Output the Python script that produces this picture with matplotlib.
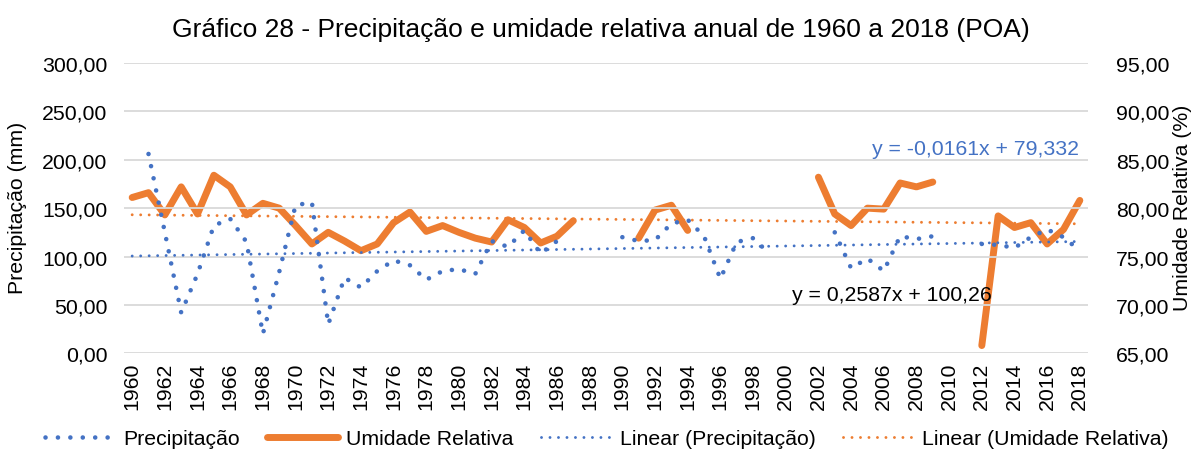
import numpy as np
import matplotlib
matplotlib.use("Agg")
import matplotlib.pyplot as plt
from matplotlib.ticker import FuncFormatter

plt.rcParams['font.family'] = ['Liberation Sans', 'DejaVu Sans']

nan = np.nan
anos = list(range(1960, 2019))

# precipitacao anual media (mm) - anos sem dado ficam como nan
precipitacao = [
    nan, 206, 125, 42, 82, 132, 139, 115, 20, 84,
    153, 156, 30, 78, 68, 85, 96, 91, 76, 85,
    87, 82, 116, 110, 127, 103, 116, nan, nan, nan,
    120, 116, 117, 134, 138, 121, 77, 115, 119, 103,
    nan, nan, nan, 125, 88, 98, 85, 121, 118, 121,
    nan, nan, 113, 112, 109, 120, 128, 120, 106,
]

# umidade relativa anual (%)
umidade = [
    81.1, 81.6, 79.3, 82.2, 79.4, 83.4, 82.2, 79.3, 80.5, 80.0,
    78.2, 76.3, 77.5, 76.6, 75.6, 76.3, 78.5, 79.6, 77.6, 78.2,
    77.5, 76.9, 76.5, 78.8, 78.0, 76.4, 77.1, 78.7, nan, nan,
    nan, 76.9, 79.8, 80.3, 77.7, nan, nan, nan, nan, nan,
    nan, nan, 83.2, 79.4, 78.2, 80.0, 79.9, 82.6, 82.2, 82.7,
    nan, nan, 65.8, 79.2, 78.0, 78.5, 76.3, 77.8, 80.8,
]

# tendencias lineares (x = 1..59)
trend_p = (0.2587, 100.26)
trend_u = (-0.0161, 79.332)

azul = '#4472C4'
laranja = '#ED7D31'
fs = 15.3

fig = plt.figure(figsize=(11.94, 4.52), dpi=100)
ax = fig.add_axes([124/1194, 1 - 354.3/452, 964/1194, 290.3/452])
ax2 = ax.twinx()

x = np.arange(len(anos))
xt = x + 1

lp, = ax.plot(x, precipitacao, color=azul, lw=3.3, dashes=(0.01, 2.7),
              dash_capstyle='round', label='Precipitação')
lu, = ax2.plot(x, umidade, color=laranja, lw=5.0, solid_joinstyle='round',
               solid_capstyle='round', label='Umidade Relativa')
ltp, = ax.plot(x, trend_p[0] * xt + trend_p[1], color=azul, lw=2.1,
               dashes=(0.01, 2.9), dash_capstyle='round',
               label='Linear (Precipitação)')
ltu, = ax2.plot(x, trend_u[0] * xt + trend_u[1], color=laranja, lw=2.1,
                dashes=(0.01, 2.9), dash_capstyle='round',
                label='Linear (Umidade Relativa)')

ax.set_zorder(ax2.get_zorder() + 1)
ax.patch.set_visible(False)

ax.set_xlim(-0.5, len(anos) - 0.5)
ax.set_ylim(0, 300)
ax2.set_ylim(65, 95)
ax.set_yticks(np.arange(0, 301, 50))
ax2.set_yticks(np.arange(65, 96, 5))
virgula = FuncFormatter(lambda v, p: f'{v:.2f}'.replace('.', ','))
ax.yaxis.set_major_formatter(virgula)
ax2.yaxis.set_major_formatter(virgula)

ax.set_xticks(x[::2])
ax.set_xticklabels([str(a) for a in anos[::2]], rotation=90)

ax.grid(axis='y', color='#D9D9D9', lw=1.3)
ax.set_axisbelow(True)
for a in (ax, ax2):
    for s in a.spines.values():
        s.set_visible(False)
    a.tick_params(length=0, labelsize=fs, colors='#000000')
ax.tick_params(axis='y', pad=12)
ax.tick_params(axis='x', pad=6)
ax2.tick_params(axis='y', pad=20)

ax.text(0.9907, 0.705, 'y = -0,0161x + 79,332', transform=ax.transAxes,
        ha='right', va='center', color=azul, fontsize=fs)
ax.text(0.797, 0.204, 'y = 0,2587x + 100,26', transform=ax.transAxes,
        ha='center', va='center', color='black', fontsize=fs)

fig.text(0.503, 1 - 30/452, 'Gráfico 28 - Precipitação e umidade relativa anual de 1960 a 2018 (POA)',
         ha='center', va='center', fontsize=19)
fig.text(18/1194, 1 - 208/452, 'Precipitação (mm)', rotation=90,
         ha='center', va='center', fontsize=fs)
fig.text(1182/1194, 1 - 208/452, 'Umidade Relativa (%)', rotation=90,
         ha='center', va='center', fontsize=fs)

fig.legend(handles=[lp, lu, ltp, ltu], loc='center', bbox_to_anchor=(0.508, 1 - 440/452),
           ncol=4, frameon=False, fontsize=fs, handlelength=3.3,
           columnspacing=1.3, handletextpad=0.4)

fig.savefig('out.png', dpi=100)
